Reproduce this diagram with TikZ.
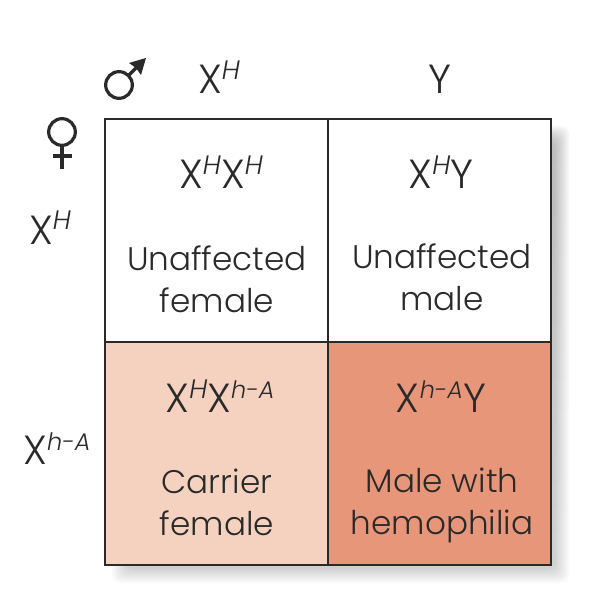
\documentclass[tikz,border=0pt]{standalone}
\usepackage{fontspec}
\setmainfont{Poppins Light}
\definecolor{ink}{HTML}{2A2A2A}
\definecolor{carrier}{HTML}{F5D2C0}
\definecolor{affected}{HTML}{E8967A}
\definecolor{shade}{HTML}{8A9EA8}
\tikzset{
 px/.style={x=0.75pt,y=-0.75pt},
 cellbox/.style={draw=ink,line width=1.3pt,minimum width=167.25pt,minimum height=167.25pt,inner sep=0pt,outer sep=0pt},
 lab/.style={text=ink,font=\fontsize{24.5}{31.5}\selectfont,align=center,inner sep=0pt},
 geno/.style={text=ink,font=\fontsize{30.5}{32}\selectfont,inner sep=0pt,anchor=base},
 symb/.style={draw=ink,line width=2.4pt}
}
\newcommand{\Xs}[1]{X\raisebox{10.5pt}{\fontsize{20}{22}\selectfont\itshape #1}}
\newcommand{\Xa}[1]{X\raisebox{10.5pt}{\fontsize{18}{22}\selectfont\itshape #1}}
\begin{document}
\begin{tikzpicture}[px]
\useasboundingbox (0,0) rectangle (598,616);
\fill[white] (0,0) rectangle (598,616);
% soft shadow
\foreach \i in {0,2,4,6,8,10,12,14}{
 \fill[shade,opacity=0.025,rounded corners=6pt] (112+\i,126+\i) rectangle (569-\i,583-\i);}
\node[cellbox,fill=white] (a) at (216.5,230.5) {};
\node[cellbox,fill=white] (b) at (439.5,230.5) {};
\node[cellbox,fill=carrier] (c) at (216.5,453.5) {};
\node[cellbox,fill=affected] (d) at (439.5,453.5) {};
\node[geno] (ga) at (221,189) {\Xs{H}\Xs{H}};
\node[geno] (gb) at (441,189) {\Xs{H}Y};
\node[geno] (gc) at (220,412) {\Xs{H}\Xa{h-A}};
\node[geno] (gd) at (441,412) {\Xa{h-A}Y};
\node[lab] (ta) at (217,279) {Unaffected\\female};
\node[lab] (tb) at (442,277) {Unaffected\\male};
\node[lab] (tc) at (217,502) {Carrier\\female};
\node[lab] (td) at (442,505) {Male with\\hemophilia};
\node[geno] (h1) at (219,94) {\Xs{H}};
\node[geno] (h2) at (440,94) {Y};
\node[geno] (v1) at (50,244) {\Xs{H}};
\node[geno] (v2) at (57,464) {\Xa{h-A}};
% male symbol
\node[symb,circle,minimum size=20pt,inner sep=0pt,outer sep=0pt] (m) at (119,85) {};
\coordinate (mtip) at (146,58);
\draw[ink,line width=2.4pt] (m) -- (136,68);
\fill[ink] (mtip) -- (129,63) -- (136,68) -- (141,75) -- cycle;
% female symbol
\node[symb,circle,minimum size=20pt,inner sep=0pt,outer sep=0pt] (f) at (62,132) {};
\coordinate (fb) at (62,169);
\coordinate (fl) at (53,156);
\coordinate (fr) at (72,156);
\draw[ink,line width=2.4pt] (f) -- (fb);
\draw[ink,line width=2.4pt] (fl) -- (fr);
\end{tikzpicture}
\end{document}
